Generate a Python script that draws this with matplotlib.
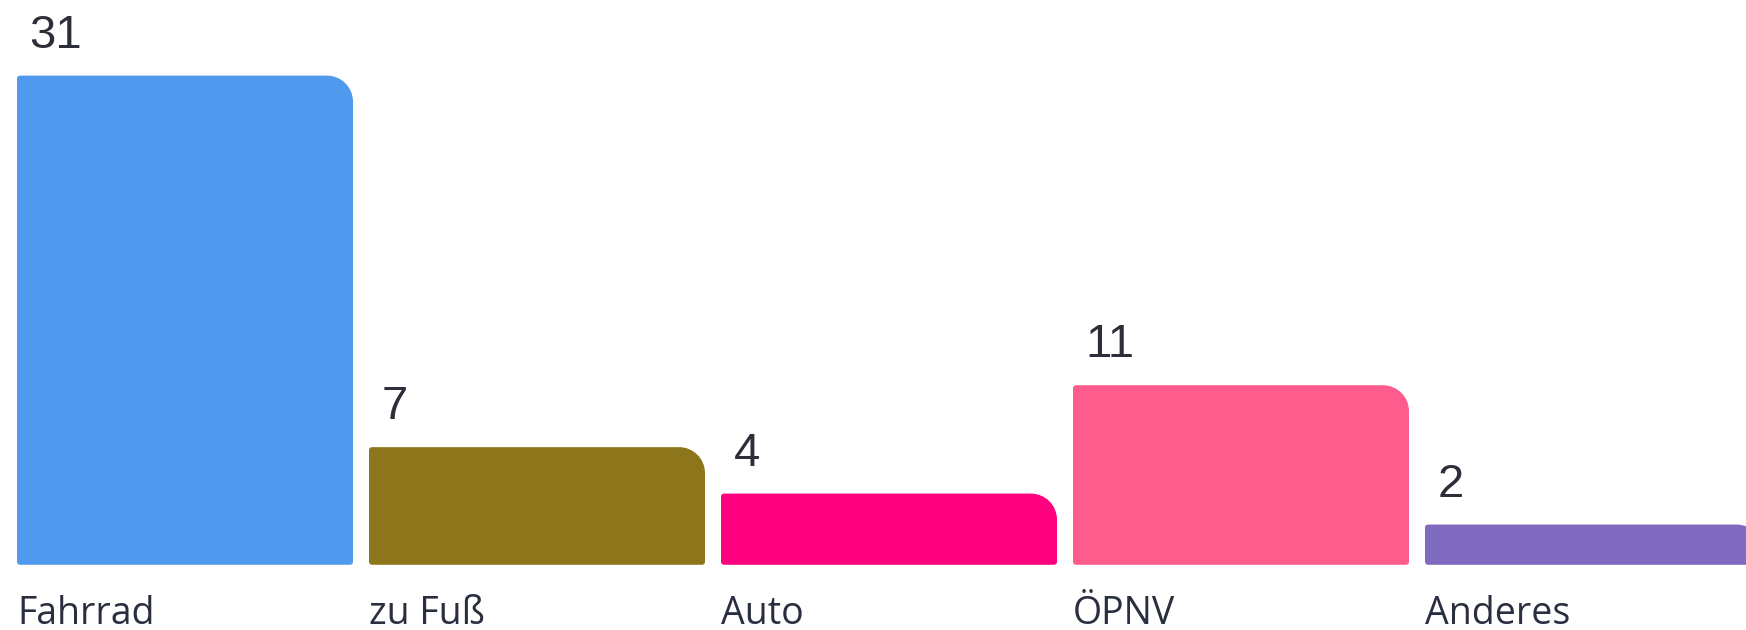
import matplotlib
matplotlib.use("Agg")
import matplotlib.pyplot as plt
from matplotlib.path import Path
from matplotlib.patches import PathPatch
import numpy as np

categories = ["Fahrrad", "zu Fuß", "Auto", "ÖPNV", "Anderes"]
values = [31, 7, 4, 11, 2]
colors = ["#4F99EE", "#8C751A", "#FF007F", "#FF5C8E", "#7E6ABE"]

W, H, DPI = 1746, 630, 100
fig = plt.figure(figsize=(W / DPI, H / DPI), dpi=DPI)
ax = fig.add_axes([0, 0, 1, 1])

# geometry (pixels)
step_px = 352.0
first_center_px = 185.0
bar_w = 336.0 / step_px
px_per_unit = 15.48
base = -0.6
zero_px = 74.5

xmin = -first_center_px / step_px
ax.set_xlim(xmin, xmin + W / step_px)
ymin = -zero_px / px_per_unit
ax.set_ylim(ymin, ymin + H / px_per_unit)
ax.axis("off")

x = np.arange(len(categories))
heights = [v - base for v in values]
bars = ax.bar(x, heights, width=bar_w, bottom=base, color=colors)

fig.canvas.draw()
to_disp = ax.transData
to_data = ax.transData.inverted()


def rounded_path(x0, y0, x1, y1, r_tr, r_o):
    k = 0.5523
    verts = []
    codes = []
    verts.append((x0, y0 + r_o)); codes.append(Path.MOVETO)
    verts.append((x0, y1 - r_o)); codes.append(Path.LINETO)
    verts += [(x0, y1 - r_o + k * r_o), (x0 + r_o - k * r_o, y1), (x0 + r_o, y1)]
    codes += [Path.CURVE4] * 3
    verts.append((x1 - r_tr, y1)); codes.append(Path.LINETO)
    verts += [(x1 - r_tr + k * r_tr, y1), (x1, y1 - r_tr + k * r_tr), (x1, y1 - r_tr)]
    codes += [Path.CURVE4] * 3
    verts.append((x1, y0 + r_o)); codes.append(Path.LINETO)
    verts += [(x1, y0 + r_o - k * r_o), (x1 - r_o + k * r_o, y0), (x1 - r_o, y0)]
    codes += [Path.CURVE4] * 3
    verts.append((x0 + r_o, y0)); codes.append(Path.LINETO)
    verts += [(x0 + r_o - k * r_o, y0), (x0, y0 + r_o - k * r_o), (x0, y0 + r_o)]
    codes += [Path.CURVE4] * 3
    verts.append((x0, y0 + r_o)); codes.append(Path.CLOSEPOLY)
    return verts, codes


for b in bars:
    bx, by, bw, bh = b.get_x(), b.get_y(), b.get_width(), b.get_height()
    (dx0, dy0) = to_disp.transform((bx, by))
    (dx1, dy1) = to_disp.transform((bx + bw, by + bh))
    r_tr = min(26.0, (dy1 - dy0) * 0.6)
    verts, codes = rounded_path(dx0, dy0, dx1, dy1, r_tr, 3.0)
    dverts = to_data.transform(np.array(verts))
    patch = PathPatch(Path(dverts, codes), facecolor=b.get_facecolor(),
                      edgecolor="none", transform=ax.transData)
    b.set_visible(False)
    ax.add_patch(patch)

for b, v, cat in zip(bars, values, categories):
    left = b.get_x()
    ax.annotate(str(v), xy=(left, v), xytext=(9.0, 20.0), textcoords="offset points",
                ha="left", va="baseline", fontsize=34, color="#2c2e3a",
                family=["Liberation Sans", "DejaVu Sans"])
    ax.text(left, 6.0 / H, cat, transform=ax.get_xaxis_transform(),
            ha="left", va="baseline", fontsize=27, color="#2a2f3f",
            weight="medium", family=["Open Sans", "DejaVu Sans"])

fig.savefig("out.png", dpi=DPI)
